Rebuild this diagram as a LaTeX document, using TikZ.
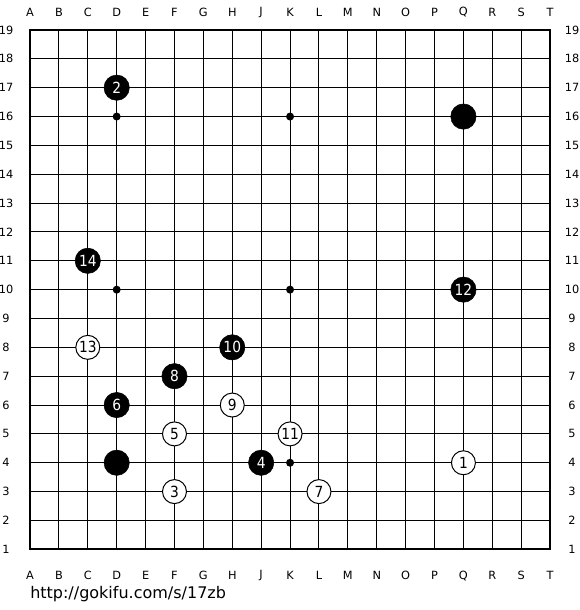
\documentclass[tikz,border=0pt]{standalone}
\usepackage{fontspec}
\setmainfont{DejaVu Sans}
\newfontfamily\stonefont{DejaVu Sans Condensed}
\begin{document}
\begin{tikzpicture}[x=21.675pt,y=21.64pt]
    \tikzstyle{bstone} = [circle, fill=black, draw=black, minimum size=19pt, inner sep=0pt, text=white, font=\stonefont\fontsize{11.5}{13}\selectfont]
    \tikzstyle{wstone} = [circle, fill=white, draw=black, line width=0.75pt, minimum size=18pt, inner sep=0pt, font=\stonefont\fontsize{11.5}{13}\selectfont]
    \tikzstyle{coord} = [inner sep=0pt, font=\fontsize{8.5}{10}\selectfont]
    \useasboundingbox (-1.038,-2.104) rectangle (19.03,19.04);
    % board
    \foreach \i in {0,...,18}
      {\draw[line width=0.75pt] (\i,0) -- (\i,18);
       \draw[line width=0.75pt] (0,\i) -- (18,\i);}
    \draw[line width=1.5pt] (0,0) rectangle (18,18);
    \foreach \x in {3,9,15}
      \foreach \y in {3,9,15}
      {\fill (\x,\y) circle (3pt);}
    % coordinates
    \foreach \l [count=\i from 0] in {A,B,C,D,E,F,G,H,J,K,L,M,N,O,P,Q,R,S,T}
      {\node[coord] (top\l) at (\i,18.62) {\l};
       \node[coord] (bot\l) at (\i,-0.915) {\l};}
    \foreach \r in {1,...,19}
      {\pgfmathtruncatemacro{\y}{\r-1}
       \node[coord] (left\r) at (-0.83,\y) {\r};
       \node[coord] (right\r) at (18.76,\y) {\r};}
    % stones
    \node[bstone] (q16) at (15,15) {};
    \node[bstone] (d4) at (3,3) {};
    \foreach \n/\x/\y in {2/3/16,4/8/3,6/3/5,8/5/6,10/7/7,12/15/9,14/2/10}
      {\node[bstone] (m\n) at (\x,\y) {\n};}
    \foreach \n/\x/\y in {1/15/3,3/5/2,5/5/4,7/10/2,9/7/5,11/9/4,13/2/7}
      {\node[wstone] (m\n) at (\x,\y) {\n};}
    \node[anchor=west, inner sep=0pt, font=\fontsize{12}{14}\selectfont] (url) at (0,-1.55) {http://gokifu.com/s/17zb};
\end{tikzpicture}
\end{document}
